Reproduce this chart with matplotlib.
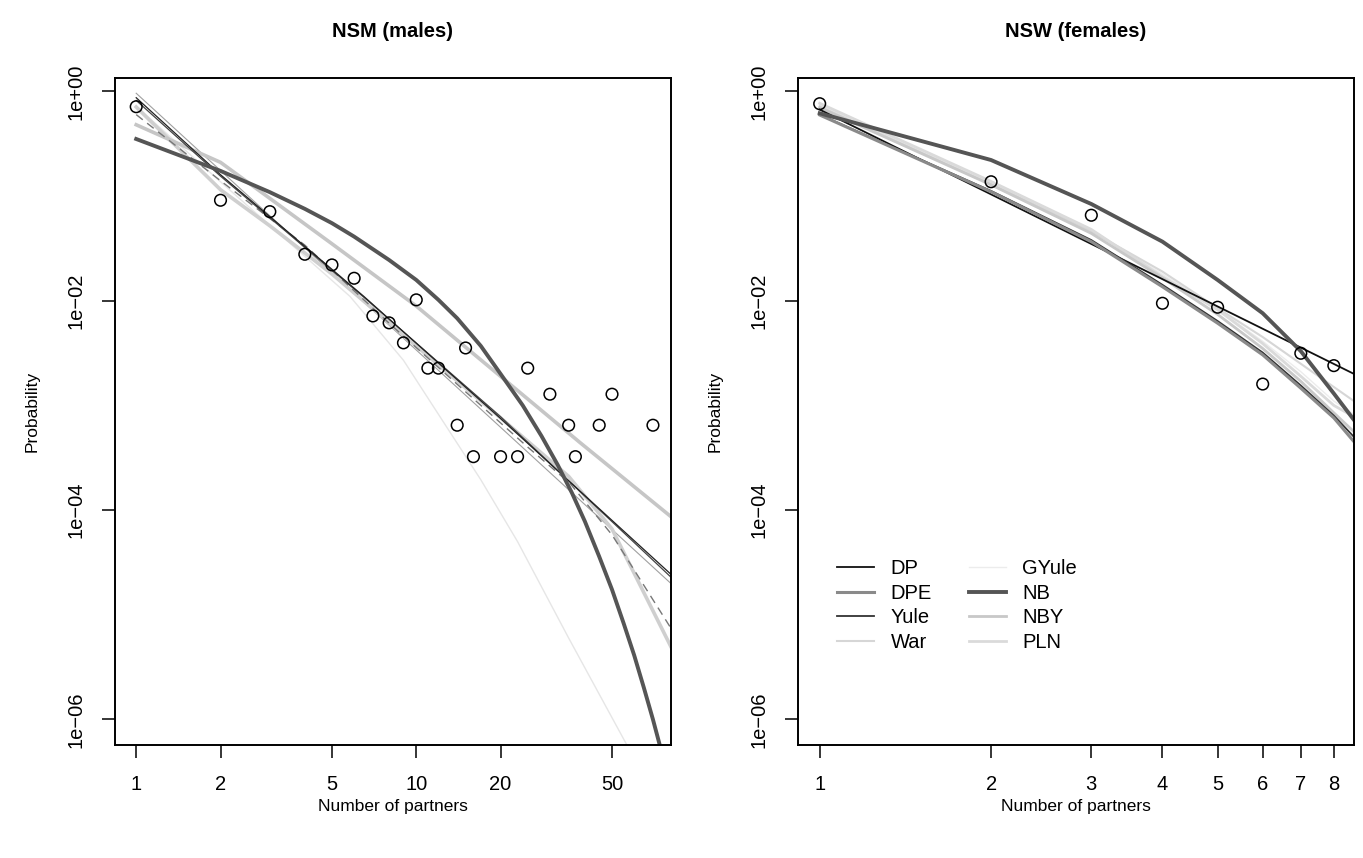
import matplotlib.pyplot as plt

plt.rcParams['font.family'] = ['Liberation Sans', 'DejaVu Sans']

# observed degree distributions
males_x = [1, 2, 3, 4, 5, 6, 7, 8, 9, 10, 11, 12, 14, 15, 16, 20, 23, 25, 30, 35, 37, 45, 50, 70]
males_p = [0.714, 0.0912, 0.071, 0.0278, 0.022, 0.0164, 0.00716, 0.00615, 0.00396, 0.0102,
           0.00227, 0.00227, 0.000647, 0.00354, 0.000324, 0.000324, 0.000324, 0.00227,
           0.00128, 0.000647, 0.000324, 0.000647, 0.00128, 0.000647]

females_x = [1, 2, 3, 4, 5, 6, 7, 8]
females_p = [0.763, 0.137, 0.0656, 0.00946, 0.00867, 0.0016, 0.00315, 0.0024]

# fitted models, males
nb_m_x = [1, 2, 3, 4, 5, 6, 8, 10, 12, 14, 17, 20, 24, 28, 32, 36, 40, 45, 50, 55, 60, 65, 70, 75]
nb_m_y = [0.351, 0.174, 0.109, 0.0755, 0.0551, 0.041, 0.0245, 0.0158, 0.0102, 0.0068, 0.0037,
          0.0020, 0.0010, 5.1e-4, 2.7e-4, 1.45e-4, 7.8e-5, 3.6e-5, 1.74e-5, 8.3e-6, 4.1e-6,
          2.0e-6, 1.0e-6, 5.0e-7]
m_fits = {
    'War':   ([1, 81], [0.96, 2.0e-5]),
    'GYule': ([1, 2, 5.8, 9, 17, 23, 35, 56.5],
              [0.72, 0.137, 0.011, 0.0027, 1.95e-4, 5e-5, 6e-6, 5.7e-7]),
    'PLN':   ([1, 2, 3, 5, 10, 20, 35, 50, 81],
              [0.71, 0.115, 0.052, 0.018, 0.0037, 7.6e-4, 2.1e-4, 6.6e-5, 5e-6]),
    'NBY':   ([1, 2, 5, 10, 15, 38.5, 81],
              [0.48, 0.21, 0.035, 0.0089, 0.0036, 4.4e-4, 8.7e-5]),
    'DPE':   ([1, 2, 4, 8, 15, 25, 35.4, 50, 81],
              [0.6, 0.14, 0.034, 0.0061, 0.00135, 4e-4, 1.8e-4, 5.8e-5, 7.5e-6]),
    'Yule':  ([1, 2, 6.5, 20, 81], [0.82, 0.155, 0.0108, 7.8e-4, 2.3e-5]),
    'DP':    ([1, 2, 6.5, 20, 81], [0.87, 0.16, 0.011, 7.5e-4, 2.45e-5]),
    'NB':    (nb_m_x, nb_m_y),
}

# fitted models, females
f_grid = [1, 2, 3, 4, 5, 6, 7, 8, 8.68]
f_fits = {
    'War':   (f_grid, [0.72, 0.13, 0.046, 0.019, 0.0085, 0.0045, 0.0025, 0.0015, 0.0011]),
    'GYule': (f_grid, [0.74, 0.135, 0.047, 0.018, 0.0083, 0.0041, 0.0021, 0.0011, 8.2e-4]),
    'PLN':   (f_grid, [0.77, 0.138, 0.048, 0.017, 0.0082, 0.0039, 0.0019, 0.001, 7.8e-4]),
    'NBY':   (f_grid, [0.7, 0.128, 0.044, 0.0165, 0.0074, 0.0035, 0.0017, 8.5e-4, 5.6e-4]),
    'Yule':  (f_grid, [0.6, 0.112, 0.038, 0.0142, 0.0064, 0.0032, 0.00155, 8e-4, 5e-4]),
    'DPE':   (f_grid, [0.595, 0.11, 0.0367, 0.0136, 0.0061, 0.00304, 0.00146, 7.6e-4, 4.5e-4]),
    'DP':    ([1, 8.68], [0.67, 0.002]),
    'NB':    ([1, 2, 3, 4, 5, 6, 7, 8, 9],
              [0.618, 0.221, 0.084, 0.0367, 0.0158, 0.0076, 0.0033, 0.0013, 5.6e-4]),
}

legend_order = ['DP', 'DPE', 'Yule', 'War', 'GYule', 'NB', 'NBY', 'PLN']
styles = {
    'DP':    dict(color='#111111', lw=1.3),
    'DPE':   dict(color='#8a8a8a', lw=2.2),
    'Yule':  dict(color='#333333', lw=1.3),
    'War':   dict(color='#d6d6d6', lw=1.5),
    'GYule': dict(color='#ececec', lw=1.0),
    'NB':    dict(color='#555555', lw=2.8),
    'NBY':   dict(color='#c8c8c8', lw=2.0),
    'PLN':   dict(color='#dadada', lw=2.0),
}
# the males panel shows some curves thinner / dashed
m_styles = dict(styles)
m_styles['DPE'] = dict(color='#777777', lw=1.0, ls=(0, (6, 4)))
m_styles['War'] = dict(color='#a0a0a0', lw=0.8)
m_styles['Yule'] = dict(color='#444444', lw=0.9)
m_styles['DP'] = dict(color='#222222', lw=0.9)
m_styles['NBY'] = dict(color='#c6c6c6', lw=2.6)
m_styles['PLN'] = dict(color='#cfcfcf', lw=2.6)
m_styles['GYule'] = dict(color='#e6e6e6', lw=1.0)

m_order = ['GYule', 'War', 'PLN', 'NBY', 'DPE', 'Yule', 'DP', 'NB']
f_order = ['GYule', 'War', 'PLN', 'NBY', 'DP', 'Yule', 'DPE', 'NB']

fig = plt.figure(figsize=(13.63, 8.58), dpi=100)
ax1 = fig.add_axes([115 / 1363, 113 / 858, 556 / 1363, 667 / 858])
ax2 = fig.add_axes([798 / 1363, 113 / 858, 556 / 1363, 667 / 858])

panels = [
    (ax1, males_x, males_p, m_fits, m_styles, m_order, 'NSM (males)',
     (0.84, 81.2), [1, 2, 5, 10, 20, 50]),
    (ax2, females_x, females_p, f_fits, styles, f_order, 'NSW (females)',
     (0.916, 8.68), [1, 2, 3, 4, 5, 6, 7, 8]),
]

for ax, ox, op, fits, sty, order, title, xlim, xticks in panels:
    for name in order:
        fx, fy = fits[name]
        ax.plot(fx, fy, label=name, **sty[name])
    ax.scatter(ox, op, s=70, facecolors='none', edgecolors='black', linewidths=1.1, zorder=5)
    ax.set_xscale('log')
    ax.set_yscale('log')
    ax.set_xlim(*xlim)
    ax.set_ylim(10 ** -6.244, 10 ** 0.128)
    ax.set_xticks(xticks)
    ax.set_xticklabels([str(t) for t in xticks])
    ax.set_yticks([1, 1e-2, 1e-4, 1e-6])
    ax.set_yticklabels(['1e+00', '1e\u221202', '1e\u221204', '1e\u221206'],
                       rotation=90, va='center')
    ax.minorticks_off()
    ax.tick_params(direction='out', length=9.4, width=1.1, labelsize=14.5, pad=11.5)
    ax.tick_params(axis='x', pad=12)
    for sp in ax.spines.values():
        sp.set_linewidth(1.4)
    ax.set_title(title, fontsize=14.5, fontweight='bold', pad=29.5)
    ax.set_xlabel('Number of partners', fontsize=12.5, va='center')
    ax.xaxis.set_label_coords(0.5, -0.0915)
    ax.set_ylabel('Probability', fontsize=12.5, va='center')
    ax.yaxis.set_label_coords(-0.149, 0.5)

# legend in the females panel, in R's legend order
handles = {h.get_label(): h for h in ax2.get_lines()}
leg = ax2.legend([handles[n] for n in legend_order], legend_order, ncol=2, frameon=False,
                 loc='upper left', bbox_to_anchor=(0.056, 0.291), borderaxespad=0,
                 fontsize=14.5, handlelength=1.85, labelspacing=0.28, columnspacing=1.85,
                 handletextpad=0.8)

fig.savefig('out.png', dpi=100)
